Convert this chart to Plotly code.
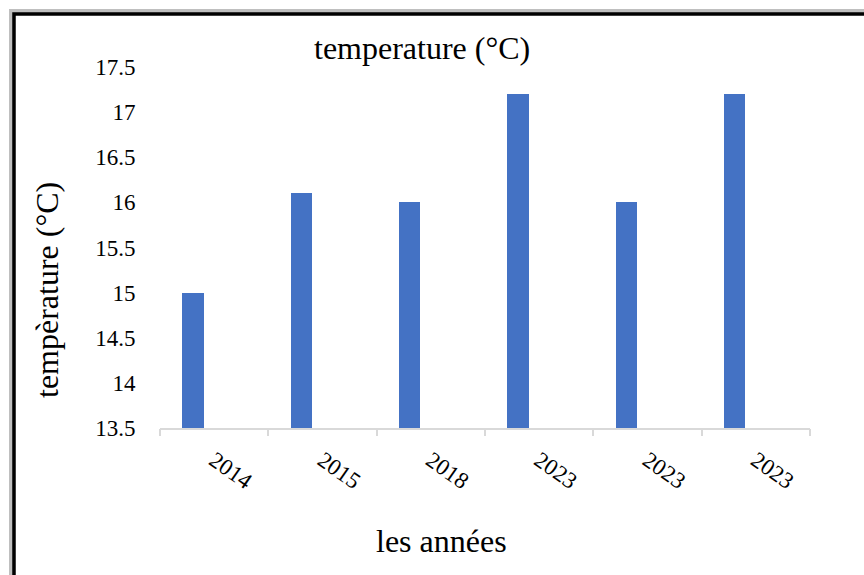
import plotly.graph_objects as go

# Data
years = ["2014", "2015", "2018", "2023", "2023", "2023"]
temperature = [15.0, 16.1, 16.0, 17.2, 16.0, 17.2]
y_ticks = [13.5, 14, 14.5, 15, 15.5, 16, 16.5, 17, 17.5]

positions = list(range(len(years)))
BAR_W = 0.195
BAR_SHIFT = -0.195  # first of three clustered slots

SERIF = "Liberation Serif"

fig = go.Figure()
fig.add_trace(go.Bar(
    x=[p + BAR_SHIFT for p in positions],
    y=temperature,
    width=BAR_W,
    marker=dict(color="#4472C4", line=dict(width=0)),
    showlegend=False,
))
# invisible trace to activate the boundary-tick axis
fig.add_trace(go.Scatter(x=[-0.5, 5.5], y=[13.5, 13.5], xaxis="x2",
                         mode="markers", marker=dict(opacity=0),
                         showlegend=False, hoverinfo="skip"))

W, H = 864, 575
L, R, T, B = 160, 54, 67, 147
pw, ph = W - L - R, H - T - B


def px(x):
    return (x - L) / pw


def py(y):
    return (H - B - y) / ph


tick_font = dict(family=SERIF, size=23, color="black")

fig.update_layout(
    width=W, height=H,
    margin=dict(l=L, r=R, t=T, b=B),
    font=dict(family=SERIF, size=23, color="black"),
    paper_bgcolor="white", plot_bgcolor="white",
    bargap=0,
    xaxis=dict(
        range=[-0.5, 5.5],
        tickmode="array", tickvals=positions, ticktext=years,
        tickangle=35,
        ticks="outside", ticklen=8, tickcolor="rgba(0,0,0,0)",
        tickfont=tick_font,
        showgrid=False, zeroline=False,
        showline=True, linecolor="#d9d9d9", linewidth=2,
    ),
    xaxis2=dict(
        range=[-0.5, 5.5], overlaying="x", side="bottom",
        tickmode="array", tickvals=[i - 0.5 for i in range(len(years) + 1)],
        ticks="outside", ticklen=7, tickwidth=2, tickcolor="#d9d9d9",
        showticklabels=False, showgrid=False, zeroline=False, showline=False,
    ),
    yaxis=dict(
        range=[13.5, 17.5],
        tickmode="array", tickvals=y_ticks,
        ticktext=[f"{v:g}" for v in y_ticks],
        tickfont=tick_font,
        showgrid=False, zeroline=False, showline=False,
        ticks="outside", ticklen=19, tickcolor="rgba(0,0,0,0)",
    ),
    annotations=[
        dict(text="temperature (°C)", x=px(422), y=py(48), xref="paper", yref="paper",
             showarrow=False, font=dict(family=SERIF, size=32, color="black"),
             xanchor="center", yanchor="middle"),
        dict(text="tempèrature (°C)", x=px(47), y=py(290), xref="paper", yref="paper",
             showarrow=False, textangle=-90,
             font=dict(family=SERIF, size=32, color="black"),
             xanchor="center", yanchor="middle"),
        dict(text="les années", x=px(441), y=py(541), xref="paper", yref="paper",
             showarrow=False, font=dict(family=SERIF, size=32, color="black"),
             xanchor="center", yanchor="middle"),
    ],
    shapes=[
        # soft shadow of the frame
        dict(type="path", xref="paper", yref="paper",
             path=f"M {px(11)},{py(H + 10)} L {px(11)},{py(11)} L {px(W + 10)},{py(11)}",
             line=dict(color="rgba(0,0,0,0.25)", width=4)),
        # frame
        dict(type="path", xref="paper", yref="paper",
             path=f"M {px(14)},{py(H + 10)} L {px(14)},{py(14)} L {px(W + 10)},{py(14)}",
             line=dict(color="black", width=3.5)),
    ],
)

fig.write_html("out.html")
